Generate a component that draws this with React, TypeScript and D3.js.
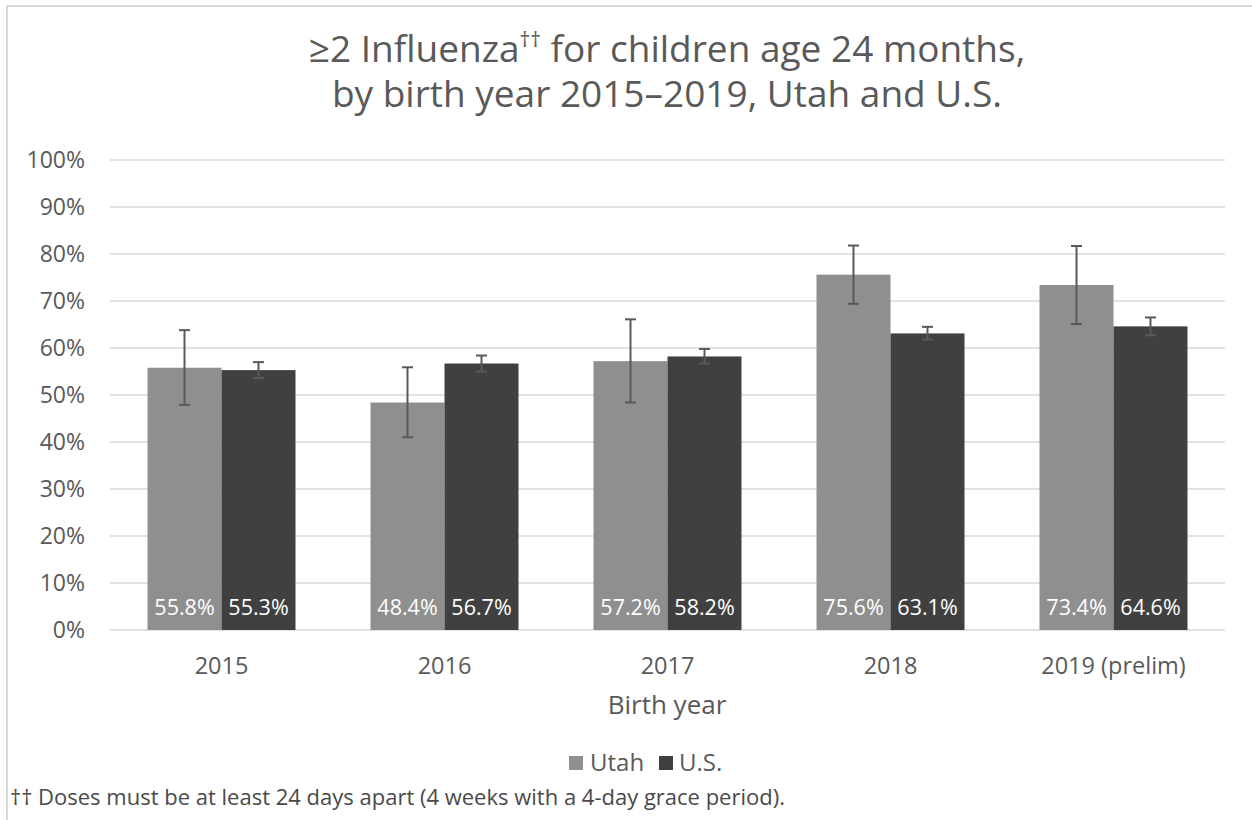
import React from "react";
import * as d3 from "d3";

const categories = ["2015", "2016", "2017", "2018", "2019 (prelim)"];
const seriesNames = ["Utah", "U.S."];
const utahValues = [55.8, 48.4, 57.2, 75.6, 73.4];
const usValues = [55.3, 56.7, 58.2, 63.1, 64.6];
const utahLow = [47.9, 41.0, 48.4, 69.4, 65.1];
const utahHigh = [63.8, 55.9, 66.1, 81.8, 81.7];
const usLow = [53.6, 55.0, 56.7, 61.8, 62.7];
const usHigh = [57.0, 58.4, 59.8, 64.5, 66.5];
const yTicks = [0, 10, 20, 30, 40, 50, 60, 70, 80, 90, 100];

const colors = ["#8f8f8f", "#404040"];
const font = "'Open Sans', sans-serif";
const textColor = "#595959";

export default function App() {
  const left = 110, right = 1225, top = 160, bottom = 630;
  const x = d3.scaleBand<string>().domain(categories).range([left, right]);
  const y = d3.scaleLinear().domain([0, 100]).range([bottom, top]);
  const barW = 74;
  const series = [
    { name: seriesNames[0], vals: utahValues, lo: utahLow, hi: utahHigh, color: colors[0] },
    { name: seriesNames[1], vals: usValues, lo: usLow, hi: usHigh, color: colors[1] },
  ];
  return (
    <svg width={1252} height={820} style={{ position: "absolute", left: 0, top: 0, background: "#fff" }} fontFamily={font}>
      <rect x={7} y={6} width={1260} height={830} fill="#fff" stroke="#d9d9d9" strokeWidth={2} />
      <text x={667} y={62} textAnchor="middle" fontSize={37} fill={textColor}>
        ≥2 Influenza<tspan fontSize={21} dy={-15}>††</tspan><tspan dy={15}> for children age 24 months,</tspan>
      </text>
      <text x={667} y={107} textAnchor="middle" fontSize={37} fill={textColor}>
        by birth year 2015–2019, Utah and U.S.
      </text>
      {yTicks.map((t) => (
        <g key={t}>
          <line x1={left} x2={right} y1={y(t)} y2={y(t)} stroke="#d9d9d9" strokeWidth={1.5} />
          <text x={85} y={y(t)} dy="0.35em" textAnchor="end" fontSize={23} fill={textColor}>{t}%</text>
        </g>
      ))}
      {categories.map((c, i) => {
        const cx = (x(c) as number) + x.bandwidth() / 2;
        return (
          <g key={c}>
            {series.map((s, j) => {
              const bx = cx - barW + j * barW;
              const ex = bx + barW / 2;
              return (
                <g key={s.name}>
                  <rect x={bx} y={y(s.vals[i])} width={barW} height={bottom - y(s.vals[i])} fill={s.color} />
                  <text x={ex} y={615} textAnchor="middle" fontSize={21.5} fill="#fff">{s.vals[i].toFixed(1)}%</text>
                  <g stroke="#595959" strokeWidth={2}>
                    <line x1={ex} x2={ex} y1={y(s.lo[i])} y2={y(s.hi[i])} />
                    <line x1={ex - 5.5} x2={ex + 5.5} y1={y(s.lo[i])} y2={y(s.lo[i])} />
                    <line x1={ex - 5.5} x2={ex + 5.5} y1={y(s.hi[i])} y2={y(s.hi[i])} />
                  </g>
                </g>
              );
            })}
            <text x={cx} y={674} textAnchor="middle" fontSize={23.5} fill={textColor}>{c}</text>
          </g>
        );
      })}
      <text x={667} y={714} textAnchor="middle" fontSize={26} fill={textColor}>Birth year</text>
      <g>
        <rect x={569} y={756} width={14} height={14} fill={colors[0]} />
        <text x={590} y={771} fontSize={24} fill={textColor}>{seriesNames[0]}</text>
        <rect x={659} y={756} width={14} height={14} fill={colors[1]} />
        <text x={679} y={771} fontSize={24} fill={textColor}>{seriesNames[1]}</text>
      </g>
      <text x={10} y={805} fontSize={22} fill="#4a4a4a">†† Doses must be at least 24 days apart (4 weeks with a 4-day grace period).</text>
    </svg>
  );
}
